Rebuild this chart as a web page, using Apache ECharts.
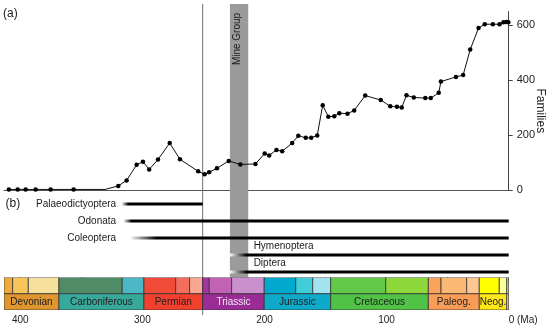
<!DOCTYPE html>
<html><head><meta charset="utf-8">
<script src="https://cdn.jsdelivr.net/npm/echarts@6/dist/echarts.min.js"></script>
<style>html,body{margin:0;padding:0;background:#fff}#c{width:550px;height:330px}</style>
</head><body><div id="c"></div>
<script>
// ---------- data ----------
const familyAges = [409.3,402.1,395.6,387.4,375.1,356.3,330.6,319.7,312.9,304.7,299.5,294.4,287.2,277.6,269.2,254.3,249.0,245.3,238.9,229.3,219.7,207.4,199.8,196.1,190.2,185.5,177.3,172.3,166.2,161.7,156.8,152.3,147.7,142.8,138.7,132.0,126.5,117.5,104.8,97.0,91.5,87.6,83.7,77.7,68.3,63.8,57.3,55.5,43.2,37.3,31.5,24.7,19.6,13.0,7.5,4.3,2.0,0.3];
const familyCounts = [2,2,2,2,2,2,2,15,35,92,103,75,111,171,112,68,57,65,79,106,93,95,133,126,146,141,171,198,190,190,199,309,267,269,280,278,290,344,328,305,303,301,345,337,335,335,354,395,412,419,512,590,604,604,604,611,612,611];
const unmarkedPoints = [6];

const familyTicks = [0,200,400,600];
const ageTicks = [0,50,100,150,200,250,300,350,400];
const ageLabels = [0,100,200,300,400];

const mineGroupAges = [228.3, 213.3];
const ptBoundaryAge = 250.6;

const lineageNames = ['Palaeodictyoptera','Odonata','Coleoptera','Hymenoptera','Diptera'];
const lineageFirst = [317.0, 315.6, 310.2, 228.3, 228.3];
const lineageSolid = [311.6, 308.8, 288.3, 214.6, 214.6];
const lineageLast  = [250.6, 0, 0, 0, 0];

const periodNames = ['Devonian','Carboniferous','Permian','Triassic','Jurassic','Cretaceous','Paleog.','Neog.',''];
const periodStart = [419, 368.3, 298.7, 250.6, 200.2, 145.8, 65.8, 24.1, 1.6];
const periodEnd   = [368.3, 298.7, 250.6, 200.2, 145.8, 65.8, 24.1, 1.6, 0];
const periodColors = ['#e0962e','#37a99b','#f1412e','#9b2c95','#0daac9','#50c245','#f99d56','#ffe619','#e6dba0'];
const periodTextColors = ['#222','#222','#222','#f4e6f4','#222','#222','#222','#222','#222'];

const stageStart = [419, 406.2, 393.4, 368.3, 316.5, 298.7, 272.7, 261.3, 250.6, 245.2, 226.9, 200.2, 174.4, 160.5, 145.8, 100.7, 65.8, 55.4, 34.4, 24.1, 7.7, 1.6];
const stageEnd   = [406.2, 393.4, 368.3, 316.5, 298.7, 272.7, 261.3, 250.6, 245.2, 226.9, 200.2, 174.4, 160.5, 145.8, 100.7, 65.8, 55.4, 34.4, 24.1, 7.7, 1.6, 0];
const stageColors = ['#f0a83c','#f7c55c','#f5e19c','#4f8b65','#4cb8c7','#f04a38','#f46e5e','#f9a694','#a3349f','#c262b5','#cc8fcd','#00a9cd','#3ecdd9','#a3e3ef','#62c94a','#8fd83c','#f9a35c','#fcb875','#fdc990','#ffff00','#ffff99','#e0d6a0'];

// ---------- layout ----------
const FONT = "'Liberation Sans', Arial, Helvetica, sans-serif";
const AGE_MAX = 413.3;
const L = 4, R = 41.3;
const LEFT_LABEL_AGE = 321.5;
const LABEL_ABOVE = ['Hymenoptera','Diptera'];

const chart = echarts.init(document.getElementById('c'), null, {renderer:'canvas'});

function hiddenX(gi){ return {gridIndex:gi, type:'value', min:0, max:AGE_MAX, inverse:true, show:false}; }
function mkGrid(top, bottom){ return {left:L, right:R, top, bottom, containLabel:false, outerBoundsMode:'none'}; }

const familyData = familyAges.map((a,i)=> unmarkedPoints.includes(i)
  ? {value:[a, familyCounts[i]], symbol:'none'} : [a, familyCounts[i]]);

const cellData = [];
stageStart.forEach((s,i)=>cellData.push([s, stageEnd[i], 0, i]));
periodStart.forEach((s,i)=>cellData.push([s, periodEnd[i], 1, i]));

const option = {
  animation:false,
  textStyle:{fontFamily:FONT},
  grid:[
    mkGrid(11.6, 140),
    mkGrid(195.5, 49.5),
    mkGrid(277.5, 20),
    mkGrid(4, 52.5),
    mkGrid(4, 15)
  ],
  xAxis:[
    {gridIndex:0, type:'value', min:0, max:AGE_MAX, inverse:true,
     axisLine:{show:true, onZero:false, lineStyle:{color:'#555', width:1}},
     axisTick:{show:false}, axisLabel:{show:false}, splitLine:{show:false}},
    hiddenX(1),
    {gridIndex:2, type:'value', min:0, max:AGE_MAX, inverse:true,
     axisLine:{show:false},
     axisTick:{show:true, customValues:ageTicks, length:5, lineStyle:{color:'#444'}},
     axisLabel:{show:true, customValues:ageLabels, formatter:v=> v===0 ? '0 (Ma)' : String(v),
       alignMinLabel:'left', fontSize:10, color:'#222', margin:5, fontFamily:FONT},
     splitLine:{show:false}},
    hiddenX(3),
    hiddenX(4)
  ],
  yAxis:[
    {gridIndex:0, type:'value', min:0, max:650, position:'right',
     axisLine:{show:true, lineStyle:{color:'#444', width:1}},
     axisTick:{show:true, customValues:familyTicks, length:4, lineStyle:{color:'#444'}},
     axisLabel:{show:true, customValues:familyTicks, fontSize:11, color:'#222', margin:8, fontFamily:FONT},
     splitLine:{show:false},
     name:'Families', nameLocation:'middle', nameRotate:-90, nameGap:26, nameMoveOverlap:false,
     nameTextStyle:{fontSize:12, color:'#222', fontFamily:FONT, padding:[0,0,0,20]}},
    {gridIndex:1, type:'category', data:lineageNames, inverse:true, show:false},
    {gridIndex:2, type:'value', min:0, max:2, inverse:true, show:false},
    {gridIndex:3, type:'value', min:0, max:1, show:false},
    {gridIndex:4, type:'value', min:0, max:1, show:false}
  ],
  series:[
    { // Mine Group band
      type:'custom', xAxisIndex:3, yAxisIndex:3, z:1, silent:true,
      data:[mineGroupAges],
      renderItem:(params, api)=>{
        const p0 = api.coord([api.value(0), 1]);
        const p1 = api.coord([api.value(1), 0]);
        const cx = (p0[0]+p1[0])/2;
        return {type:'group', children:[
          {type:'rect', shape:{x:p0[0], y:p0[1], width:p1[0]-p0[0], height:p1[1]-p0[1]}, style:{fill:'#9b9b9b'}},
          {type:'text', x:cx-1.5, y:p0[1]+35, rotation:Math.PI/2,
           style:{text:'Mine Group', align:'center', verticalAlign:'middle', fill:'#1a1a1a', fontSize:10, fontFamily:FONT}}
        ]};
      }
    },
    { // P-T boundary line
      type:'line', xAxisIndex:4, yAxisIndex:4, z:2, silent:true, symbol:'none',
      data:[[ptBoundaryAge,0],[ptBoundaryAge,1]],
      lineStyle:{color:'#6e6e6e', width:1}
    },
    { // families
      type:'line', xAxisIndex:0, yAxisIndex:0, z:5, silent:true,
      data:familyData, symbol:'circle', symbolSize:4.5,
      itemStyle:{color:'#000'}, lineStyle:{color:'#111', width:1}
    },
    { // lineages
      type:'custom', xAxisIndex:1, yAxisIndex:1, z:4, silent:true,
      data:lineageNames.map((n,i)=>[lineageFirst[i], lineageSolid[i], lineageLast[i], i]),
      renderItem:(params, api)=>{
        const row = api.value(3);
        const a = api.coord([api.value(0), row]);
        const b = api.coord([api.value(1), row]);
        const c = api.coord([api.value(2), row]);
        const w = c[0]-a[0];
        const f = Math.max(0.001, Math.min(0.999, (b[0]-a[0])/w));
        const name = lineageNames[params.dataIndex];
        const children = [{type:'rect', shape:{x:a[0], y:a[1]-1.5, width:w, height:3},
          style:{fill:new echarts.graphic.LinearGradient(0,0,1,0,[
            {offset:0,color:'#ffffff'},{offset:f,color:'#000'},{offset:1,color:'#000'}])}}];
        if (LABEL_ABOVE.includes(name)) {
          children.push({type:'text', style:{text:name, x:b[0]+7, y:a[1]-8.5, align:'left', verticalAlign:'middle', fill:'#1a1a1a', fontSize:10, fontFamily:FONT}});
        } else {
          const lp = api.coord([LEFT_LABEL_AGE, row]);
          children.push({type:'text', style:{text:name, x:lp[0], y:a[1], align:'right', verticalAlign:'middle', fill:'#1a1a1a', fontSize:10, fontFamily:FONT}});
        }
        return {type:'group', children};
      }
    },
    { // time scale
      type:'custom', xAxisIndex:2, yAxisIndex:2, z:3, silent:true, clip:true,
      data:cellData,
      renderItem:(params, api)=>{
        const s = Math.min(api.value(0), AGE_MAX), e = api.value(1), row = api.value(2), idx = api.value(3);
        const p0 = api.coord([s, row]);
        const p1 = api.coord([e, row+1]);
        const color = row===0 ? stageColors[idx] : periodColors[idx];
        const children = [{type:'rect', shape:{x:p0[0], y:p0[1], width:p1[0]-p0[0], height:p1[1]-p0[1]},
          style:{fill:color, stroke:'#333', lineWidth:0.8}}];
        if (row===1 && periodNames[idx]) {
          children.push({type:'text', style:{text:periodNames[idx], x:(p0[0]+p1[0])/2, y:(p0[1]+p1[1])/2+0.5,
            align:'center', verticalAlign:'middle', fill:periodTextColors[idx], fontSize:10, fontFamily:FONT}});
        }
        return {type:'group', children};
      }
    }
  ],
  graphic:[
    {type:'text', left:3, top:8, style:{text:'(a)', fontSize:12, fill:'#1a1a1a', fontFamily:FONT}},
    {type:'text', left:5.5, top:197.5, style:{text:'(b)', fontSize:12, fill:'#1a1a1a', fontFamily:FONT}}
  ]
};
chart.setOption(option);
</script></body></html>
